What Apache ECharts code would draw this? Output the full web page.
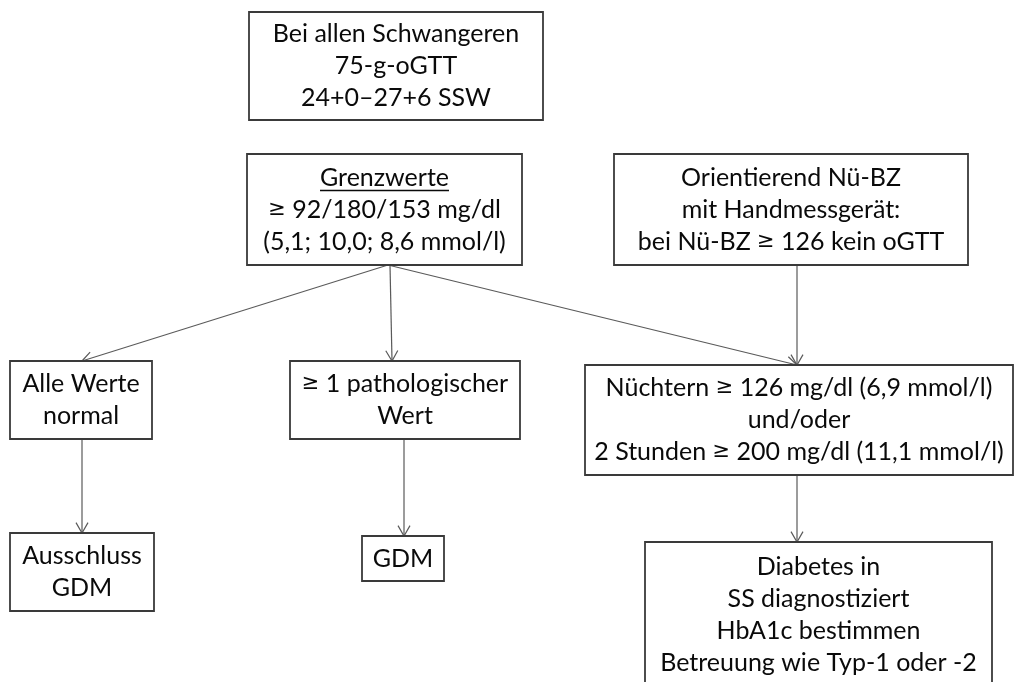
<!DOCTYPE html>
<html>
<head>
<meta charset="utf-8">
<script src="https://cdn.jsdelivr.net/npm/echarts@6/dist/echarts.min.js"></script>
<style>
  html, body { margin: 0; background: #fff; }
  #chart { width: 1015px; height: 682px; }
</style>
</head>
<body>
<div id="chart"></div>
<script>
// node texts of the flow chart ({ge|≥} is drawn with a separate glyph style)
const boxLabels = [
  'Bei allen Schwangeren\n75-g-oGTT\n24+0–27+6 SSW',
  'Grenzwerte\n{ge|≥} 92/180/153 mg/dl\n(5,1; 10,0; 8,6 mmol/l)',
  'Orientierend Nü-BZ\nmit Handmessgerät:\nbei Nü-BZ {ge|≥} 126 kein oGTT',
  'Alle Werte\nnormal',
  '{ge|≥} 1 pathologischer\nWert',
  'Nüchtern {ge|≥} 126 mg/dl (6,9 mmol/l)\nund/oder\n2 Stunden {ge|≥} 200 mg/dl (11,1 mmol/l)',
  'Ausschluss\nGDM',
  'GDM',
  'Diabetes in\nSS diagnostiziert\nHbA1c bestimmen\nBetreuung wie Typ-1 oder -2'
]
// which labels have an underlined first line
const underlinedFirstLine = [false, true, false, false, false, false, false, false, false]

// box corners [x0, y0, x1, y1] in chart units
const boxExtents = [
  [249, 12, 543, 120],
  [247, 154, 522, 265],
  [614, 154, 968, 265],
  [10, 361, 152, 439],
  [290, 361, 520, 439],
  [585, 365, 1013, 475],
  [10, 533, 154, 611],
  [362, 536, 444, 581],
  [645, 542, 992, 688]
]

// arrows [fromX, fromY, toX, toY]
const arrowPaths = [
  [388, 265, 82, 361],
  [390, 265, 392, 361],
  [388, 265, 797, 365],
  [797, 265, 797, 365],
  [82, 439, 82, 533],
  [404, 439, 404, 536],
  [797, 475, 797, 542]
]

const FONT = '25px Lato, "Open Sans", sans-serif'
const LINE_H = 32

const measureCtx = document.createElement('canvas').getContext('2d')
measureCtx.font = FONT

const chart = echarts.init(document.getElementById('chart'))

chart.setOption({
  animation: false,
  backgroundColor: '#fff',
  grid: { left: 0, right: 0, top: 0, bottom: 0 },
  xAxis: { type: 'value', min: 0, max: 1015, show: false },
  yAxis: { type: 'value', min: 0, max: 682, inverse: true, show: false },
  series: [
    {
      type: 'custom',
      name: 'arrows',
      coordinateSystem: 'cartesian2d',
      data: arrowPaths,
      encode: { x: [0, 2], y: [1, 3] },
      clip: false,
      renderItem: (params, api) => {
        const a = api.coord([api.value(0), api.value(1)])
        const b = api.coord([api.value(2), api.value(3)])
        const ang = Math.atan2(b[1] - a[1], b[0] - a[0])
        const len = 12
        const spread = Math.PI / 6
        const h1 = [b[0] - len * Math.cos(ang - spread), b[1] - len * Math.sin(ang - spread)]
        const h2 = [b[0] - len * Math.cos(ang + spread), b[1] - len * Math.sin(ang + spread)]
        const stroke = { stroke: '#5a5a5a', lineWidth: 1.2, fill: null }
        return {
          type: 'group',
          children: [
            { type: 'line', shape: { x1: a[0], y1: a[1], x2: b[0], y2: b[1] }, style: stroke },
            { type: 'polyline', shape: { points: [h1, b, h2] }, style: stroke }
          ]
        }
      }
    },
    {
      type: 'custom',
      name: 'boxes',
      coordinateSystem: 'cartesian2d',
      data: boxExtents.map((b, i) => [...b, i]),
      encode: { x: [0, 2], y: [1, 3] },
      clip: false,
      renderItem: (params, api) => {
        const p0 = api.coord([api.value(0), api.value(1)])
        const p1 = api.coord([api.value(2), api.value(3)])
        const idx = api.value(4)
        const label = boxLabels[idx]
        const lines = label.split('\n')
        const cx = (p0[0] + p1[0]) / 2
        const cy = (p0[1] + p1[1]) / 2
        const children = [
          {
            type: 'rect',
            shape: { x: p0[0], y: p0[1], width: p1[0] - p0[0], height: p1[1] - p0[1] },
            style: { fill: '#fff', stroke: '#3a3a3a', lineWidth: 1.8 }
          },
          {
            type: 'text',
            style: {
              text: label,
              x: cx,
              y: cy,
              align: 'center',
              verticalAlign: 'middle',
              font: FONT,
              lineHeight: LINE_H,
              fill: '#0a0a0a',
              rich: {
                ge: {
                  fontFamily: '"DejaVu Sans", sans-serif',
                  fontSize: 21,
                  lineHeight: LINE_H,
                  fill: '#0a0a0a'
                }
              }
            }
          }
        ]
        if (underlinedFirstLine[idx]) {
          const w = measureCtx.measureText(lines[0]).width
          const uy = cy - (lines.length / 2 - 1) * LINE_H - 3
          children.push({
            type: 'line',
            shape: { x1: cx - w / 2, y1: uy, x2: cx + w / 2, y2: uy },
            style: { stroke: '#0a0a0a', lineWidth: 1.3 }
          })
        }
        return { type: 'group', children }
      }
    }
  ]
})
</script>
</body>
</html>
